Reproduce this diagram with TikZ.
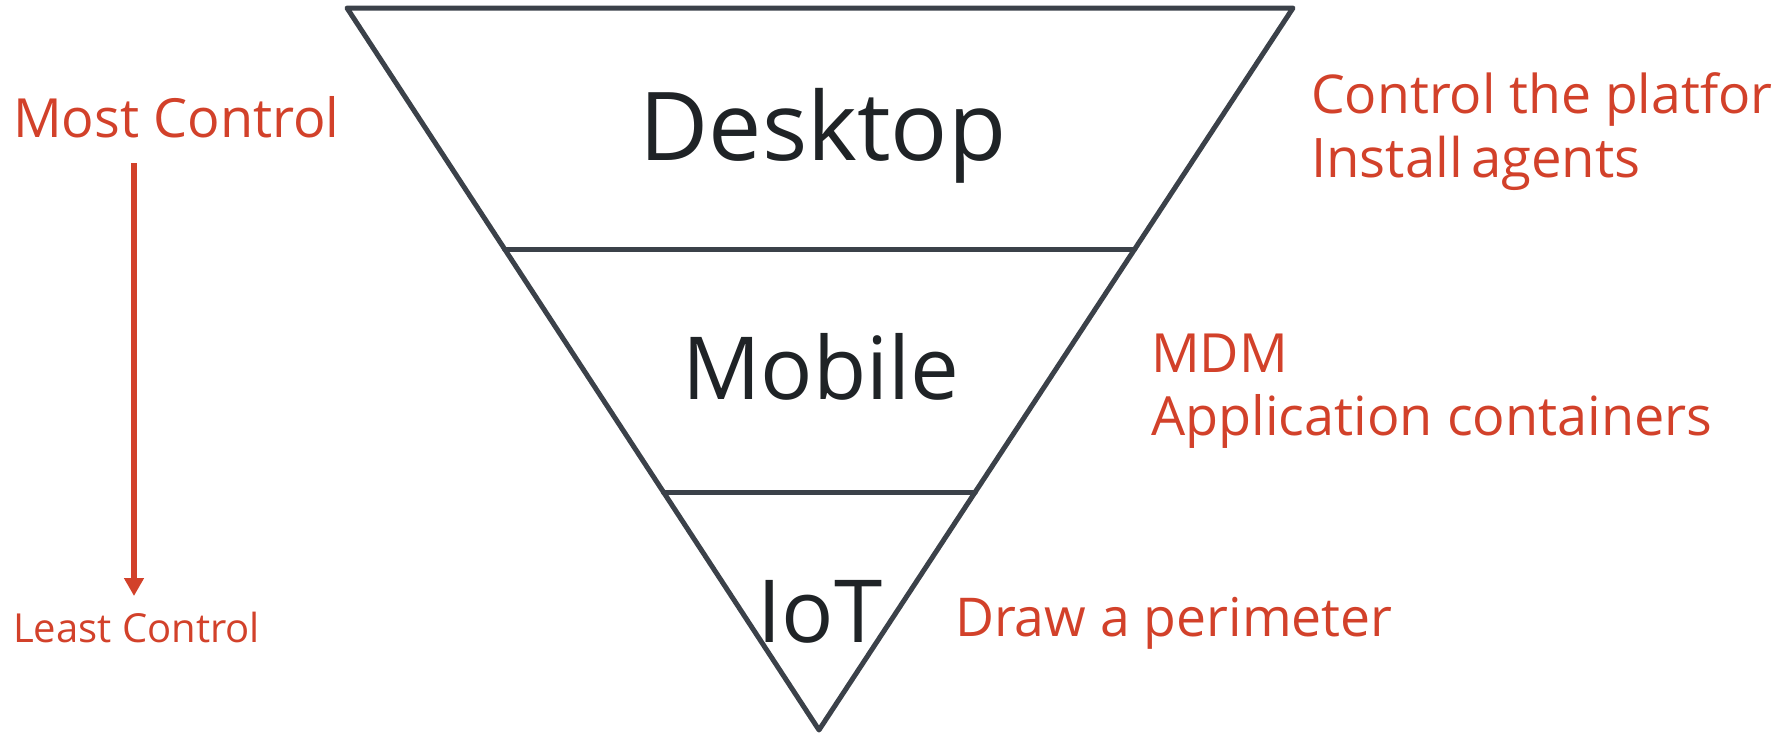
\documentclass[tikz,border=0pt]{standalone}
\usepackage{fontspec}
\setmainfont{Open Sans}
\usetikzlibrary{arrows.meta,calc}
\definecolor{edgegray}{HTML}{3B4149}
\definecolor{inkdark}{HTML}{1F2326}
\definecolor{accentred}{HTML}{D2412A}

\tikzset{
  funnel/.style={draw=edgegray, line width=5pt, line join=round, line cap=round},
  tier/.style={inner sep=0pt, anchor=base, text=inkdark},
  note/.style={inner sep=0pt, anchor=base west, text=accentred},
  flow/.style={draw=accentred, line width=5.5pt, -{Triangle[width=19pt,length=18pt]}}
}

\begin{document}
\begin{tikzpicture}[x=1pt, y=-1pt]
\useasboundingbox (0,0) rectangle (1773,736);
\clip (0,0) rectangle (1773,736);

% inverted triangle
\coordinate (tl) at (347,8);
\coordinate (tr) at (1293,8);
\coordinate (ap) at (819,730);
\draw[funnel] (tl) -- (tr) -- (ap) -- cycle;

% tier dividers
\draw[funnel] ($(tl)!0.3338!(ap)$) -- ($(tr)!0.3338!(ap)$);
\draw[funnel] ($(tl)!0.6704!(ap)$) -- ($(tr)!0.6704!(ap)$);

% tier labels
\node[tier, font=\fontsize{95}{95}\selectfont] (desk) at (823,160) {Desktop};
\node[tier, font=\fontsize{87}{87}\selectfont] (mob) at (821,399) {Mobile};
\node[tier, font=\fontsize{87}{87}\selectfont] (iot) at (820,642) {IoT};

% control scale
\node[note, font=\fontsize{54}{54}\selectfont] (most) at (13,137) {Most Control};
\node[note, font=\fontsize{40}{40}\selectfont] (least) at (13,642) {Least Control};
\coordinate (arrtop) at (134,163);
\coordinate (arrtip) at (134,596);
\draw[flow] (arrtop) -- (arrtip);

% notes per tier
\node[note, font=\fontsize{53.5}{53.5}\selectfont] (plat1) at (1311,113) {Control the platfor};
\node[note, font=\fontsize{54.5}{54.5}\selectfont] (plat2) at (1311,177) {Install\hspace{0.15em}agents};
\node[note, font=\fontsize{54}{54}\selectfont] (mdm1) at (1151,372) {MDM};
\node[note, font=\fontsize{54}{54}\selectfont] (mdm2) at (1151,435) {Application containers};
\node[note, font=\fontsize{53.5}{53.5}\selectfont] (perim) at (955,636) {Draw a perimeter};
\end{tikzpicture}
\end{document}
